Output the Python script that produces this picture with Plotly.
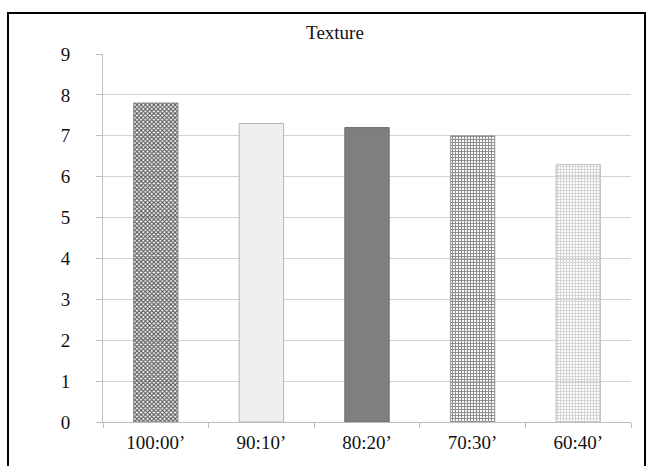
import plotly.graph_objects as go

# Texture scores by blend ratio
categories = ["100:00’", "90:10’", "80:20’", "70:30’", "60:40’"]
texture = [7.8, 7.3, 7.2, 7.0, 6.3]

# Per-bar fill styles
fill_colors = ["#5a5a5a", "#efefef", "#7f7f7f", "#8e8e8e", "#d4d4d4"]
pattern_shapes = ["x", "", "", "+", "+"]
pattern_fg = ["#0a0a0a", "#efefef", "#7f7f7f", "#565656", "#a2a2a2"]
pattern_bg = ["#7a7a7a", "#efefef", "#7f7f7f", "#a4a4a4", "#e0e0e0"]
outline_colors = ["#8a8a8a", "#b5b5b5", "#6e6e6e", "#9a9a9a", "#c0c0c0"]

serif = "Liberation Serif, Times New Roman, serif"

fig = go.Figure(
    go.Bar(
        x=categories,
        y=texture,
        marker=dict(
            color=fill_colors,
            line=dict(color=outline_colors, width=1),
            pattern=dict(
                shape=pattern_shapes,
                fgcolor=pattern_fg,
                bgcolor=pattern_bg,
                size=3,
                solidity=0.6,
                fillmode="replace",
            ),
        ),
        showlegend=False,
    )
)

fig.update_layout(
    width=652,
    height=466,
    margin=dict(l=103, r=21, t=54, b=44),
    paper_bgcolor="white",
    plot_bgcolor="white",
    bargap=0.58,
    title=dict(
        text="Texture",
        x=335 / 652,
        xanchor="center",
        y=1 - 32 / 466,
        yanchor="middle",
        font=dict(family=serif, size=19, color="#111111"),
    ),
    font=dict(family=serif, color="#111111"),
    xaxis=dict(
        type="category",
        showgrid=False,
        showline=True,
        linecolor="#bdbdbd",
        linewidth=1,
        ticks="outside",
        tickson="boundaries",
        ticklen=5,
        tickcolor="#bdbdbd",
        ticklabelstandoff=3,
        tickfont=dict(family=serif, size=19, color="#111111"),
    ),
    yaxis=dict(
        range=[0, 9],
        dtick=1,
        showgrid=True,
        gridcolor="#d4d4d4",
        gridwidth=1,
        zeroline=False,
        showline=True,
        linecolor="#bdbdbd",
        linewidth=1,
        ticks="outside",
        ticklen=6,
        tickcolor="#bdbdbd",
        ticklabelstandoff=22,
        tickfont=dict(family=serif, size=19, color="#111111"),
    ),
    shapes=[
        dict(
            type="rect",
            xref="paper",
            yref="paper",
            x0=(8 - 103) / 528,
            x1=(645 - 103) / 528,
            y0=-0.2,
            y1=(422 - 13) / 368,
            line=dict(color="black", width=2),
            fillcolor="rgba(0,0,0,0)",
            layer="above",
        )
    ],
)

fig.write_html("out.html")
